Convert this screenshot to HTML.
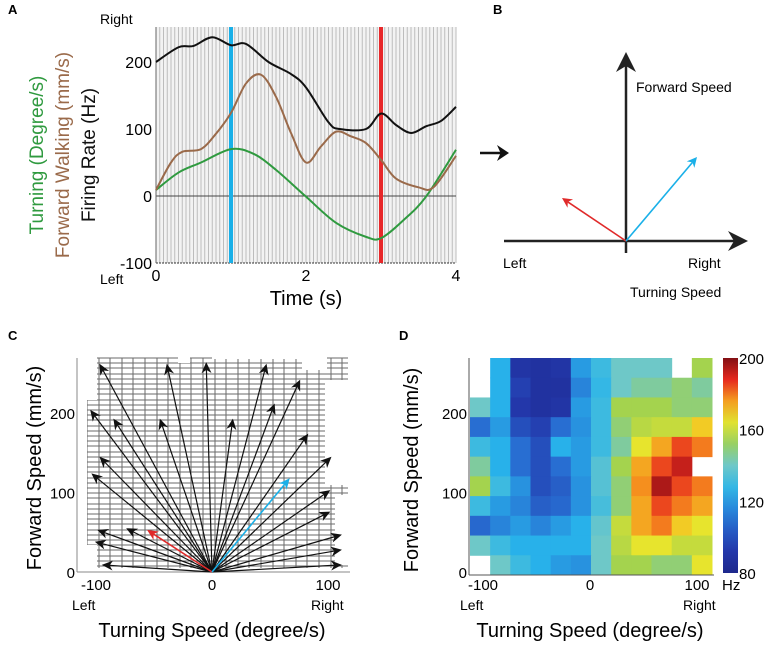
<!DOCTYPE html>
<html><head><meta charset="utf-8"><style>
html,body{margin:0;padding:0;background:#fff;}
svg{display:block;font-family:"Liberation Sans",Arial,sans-serif;}
</style></head><body>
<svg id="fig" width="767" height="645" viewBox="0 0 767 645">
<g id="pA"></g>
<g id="pB"></g>
<g id="pC"></g>
<g id="pD"></g>
</svg>
<script>
// ---- Panel A data ----
const timeT = [0,0.3,0.5,0.75,1,1.2,1.5,1.8,2,2.3,2.45,2.8,3,3.2,3.4,3.6,3.8,4];
const firingRate = [200,222,224,237,225,227,200,182,162,110,100,100,123,106,94,104,112,133];
const walkT = [0,0.2,0.35,0.6,0.8,1,1.2,1.4,1.6,1.8,2,2.2,2.4,2.6,2.8,3,3.2,3.5,3.7,4];
const walkSpeed = [9,50,66,70,93,124,168,181,148,94,50,74,96,89,79,54,26,13,13,60];
const turnT = [0,0.3,0.6,1,1.3,1.6,2,2.4,2.8,3,3.3,3.6,4];
const turnSpeed = [9,35,50,70,63,39,-1,-40,-61,-63,-36,-1,69];
const aYTicks = [200,100,0,-100];
const aXTicks = [0,2,4];
const markTimes = [1,3];
// ---- Panel C data ----
const arrowTurn = [-97,-39,-5,47,76,-105,-85,-45,18,54,83,-97,-104,103,102,102,-99,-74,112,-101,112,-95,112];
const arrowFwd = [262,262,264,262,242,204,193,193,193,212,174,145,124,145,103,76,53,55,47,38,28,9,9];
const redArrow = [-56,53];
const blueArrow = [67,118];
const cXTicks = [-100,0,100];
const cYTicks = [0,100,200];
// ---- Panel D data (rows top->bottom, cols left->right; null = empty) ----
const heatRows = [
[null,125,90,88,90,120,130,140,140,140,null,155],
[null,125,95,88,88,115,128,140,145,145,150,145],
[140,125,92,88,90,120,130,155,155,155,150,150],
[110,120,100,95,110,118,130,150,158,160,160,170],
[130,125,110,100,125,120,130,145,165,175,185,180],
[145,125,110,100,110,120,135,155,175,185,192,null],
[155,130,118,100,105,118,135,150,178,195,185,180],
[130,120,115,105,108,118,132,150,175,185,180,175],
[108,115,120,115,120,125,138,160,175,180,170,165],
[140,130,125,125,125,125,140,158,165,165,160,160],
[null,140,130,125,120,118,140,155,155,150,150,165]];
const cbarTicks = [200,160,120,80];

const NS="http://www.w3.org/2000/svg";
function mk(parent,tag,attrs,text){const e=document.createElementNS(NS,tag);for(const k in attrs)e.setAttribute(k,attrs[k]);if(text!==undefined)e.textContent=text;parent.appendChild(e);return e;}
function smooth(pts){let d="M"+pts[0][0]+","+pts[0][1];for(let i=0;i<pts.length-1;i++){const p0=pts[Math.max(0,i-1)],p1=pts[i],p2=pts[i+1],p3=pts[Math.min(pts.length-1,i+2)];const c1=[p1[0]+(p2[0]-p0[0])/6,p1[1]+(p2[1]-p0[1])/6],c2=[p2[0]-(p3[0]-p1[0])/6,p2[1]-(p3[1]-p1[1])/6];d+=" C"+c1+" "+c2+" "+p2;}return d;}

// ===== Panel A =====
const A=document.getElementById('pA');
const ax=t=>156+t*75, ay=v=>196-v*0.67;
let e;
e=mk(A,'text',{x:8,y:14,'font-size':13,'font-weight':'bold'},'A');


e=mk(A,'rect',{x:156,y:27,width:300,height:236,fill:'#f3f3f3'});


for(let i=0;i<=80;i++){e=mk(A,'line',{x1:156+i*3.75,x2:156+i*3.75,y1:27,y2:263,stroke:'#bdbdbd','stroke-width':1});

}
e=mk(A,'line',{x1:156,x2:456,y1:ay(0),y2:ay(0),stroke:'#444','stroke-width':1});


e=mk(A,'line',{x1:156,x2:456,y1:263,y2:263,stroke:'#333','stroke-width':1,'stroke-dasharray':'2,1'});


e=mk(A,'line',{x1:156,x2:156,y1:27,y2:263,stroke:'#666','stroke-width':1});


const markCol=['#1ab0e8','#e8282a'];
markTimes.forEach((t,i)=>{e=mk(A,'line',{x1:ax(t),x2:ax(t),y1:27,y2:263,stroke:markCol[i],'stroke-width':4});

});
function curve(ts,vs,col,name){e=mk(A,'path',{d:smooth(ts.map((t,i)=>[ax(t),ay(vs[i])])),fill:'none',stroke:col,'stroke-width':2});

}
curve(turnT,turnSpeed,'#2f9a3f','turning-line');
curve(walkT,walkSpeed,'#9a6a4a','forward-walking-line');
curve(timeT,firingRate,'#111','firing-rate-line');
aYTicks.forEach(v=>{e=mk(A,'text',{x:152,y:ay(v)+6,'font-size':16,'text-anchor':'end'},String(v));

});
aXTicks.forEach(v=>{e=mk(A,'text',{x:ax(v),y:281,'font-size':16,'text-anchor':'middle'},String(v));

});
e=mk(A,'text',{x:100,y:24,'font-size':14},'Right');


e=mk(A,'text',{x:100,y:284,'font-size':14},'Left');


e=mk(A,'text',{x:306,y:305,'font-size':20,'text-anchor':'middle'},'Time (s)');


[['Firing Rate (Hz)','#111',95,'firing-rate-title'],['Forward Walking (mm/s)','#9a6a4a',69,'forward-walking-title'],['Turning (Degree/s)','#2f9a3f',43,'turning-title']].forEach(a=>{
e=mk(A,'text',{x:a[2],y:155,'font-size':19,'text-anchor':'middle',fill:a[1],transform:'rotate(-90 '+a[2]+' 155)'},a[0]);

});

// ===== Panel B =====
const B=document.getElementById('pB');
e=mk(B,'text',{x:493,y:14,'font-size':13,'font-weight':'bold'},'B');


function arrow(g,x1,y1,x2,y2,col,w,hl,hw,name){const a=Math.atan2(y2-y1,x2-x1),c=Math.cos(a),s=Math.sin(a);
const bx=x2-hl*c,by=y2-hl*s;
e=mk(g,'line',{x1:x1,y1:y1,x2:bx+hl*0.3*c,y2:by+hl*0.3*s,stroke:col,'stroke-width':w});


e=mk(g,'polygon',{points:[x2,y2,bx-hw*s,by+hw*c,bx+hl*0.3*c,by+hl*0.3*s,bx+hw*s,by-hw*c].join(','),fill:col});

}
arrow(B,626,253,626,52,'#222',2.5,20,10,'forward-speed-axis');
arrow(B,504,241,748,241,'#222',2.5,20,10,'turning-speed-axis');
arrow(B,626,241,562,198,'#e02a2a',1.6,10,5,'red-vector');
arrow(B,626,241,697,157,'#1ab0e8',1.6,10,5,'blue-vector');
arrow(B,480,153,509,153,'#111',2.5,12,8,'transition-arrow');
[['Forward  Speed',636,92,'forward-speed-label'],['Left',503,268,'b-left-label'],['Right',688,268,'b-right-label'],['Turning Speed',630,297,'turning-speed-label']].forEach(a=>{
e=mk(B,'text',{x:a[1],y:a[2],'font-size':14},a[0]);

});

// ===== Panel C =====
const C=document.getElementById('pC');
const cx=v=>212+v*1.16, cy=v=>572-v*0.795;
e=mk(C,'text',{x:8,y:340,'font-size':13,'font-weight':'bold'},'C');


const gg=mk(C,'g',{stroke:'#6a6a6a','stroke-width':1,'shape-rendering':'crispEdges'});


for(let y=358;y<=568;y+=5.2){mk(gg,'line',{x1:87,x2:348,y1:Math.round(y),y2:Math.round(y)});}
for(let x=87;x<=349;x+=11.6){mk(gg,'line',{x1:Math.round(x),x2:Math.round(x),y1:358,y2:568});}
[[77,355,20,45],[77,355,10,220],[178,355,12,8],[212,355,90,4],[302,355,25,15],[327,380,25,8],[77,448,10,30],[77,545,20,25],[325,380,25,105],[335,495,15,70]].forEach(r=>{
e=mk(C,'rect',{x:r[0],y:r[1],width:r[2],height:r[3],fill:'#fff'});

});
e=mk(C,'line',{x1:77,x2:77,y1:358,y2:572,stroke:'#888','stroke-width':1});


e=mk(C,'line',{x1:77,x2:350,y1:572,y2:572,stroke:'#888','stroke-width':1});


arrowTurn.forEach((t,i)=>arrow(C,cx(0),cy(0),cx(t),cy(arrowFwd[i]),'#111',1.2,11,5,'direction-arrow'));
arrow(C,cx(0),cy(0),cx(redArrow[0]),cy(redArrow[1]),'#e02a2a',1.6,11,5,'red-direction-arrow');
arrow(C,cx(0),cy(0),cx(blueArrow[0]),cy(blueArrow[1]),'#1ab0e8',1.6,11,5,'blue-direction-arrow');
cXTicks.forEach(v=>{e=mk(C,'text',{x:cx(v),y:590,'font-size':15,'text-anchor':'middle'},String(v));

});
cYTicks.forEach(v=>{e=mk(C,'text',{x:75,y:cy(v)+6,'font-size':15,'text-anchor':'end'},String(v));

});
e=mk(C,'text',{x:72,y:610,'font-size':14},'Left');


e=mk(C,'text',{x:311,y:610,'font-size':14},'Right');


e=mk(C,'text',{x:212,y:637,'font-size':20,'text-anchor':'middle'},'Turning Speed (degree/s)');


e=mk(C,'text',{x:41,y:468,'font-size':20,'text-anchor':'middle',transform:'rotate(-90 41 468)'},'Forward  Speed (mm/s)');



// ===== Panel D =====
const D=document.getElementById('pD');
const dx=v=>590+v*1.07, dy=v=>572-v*0.795;
function jet(v){let t=Math.max(0,Math.min(1,(v-80)/120));
const stops=[[0,[30,40,140]],[0.1,[35,55,170]],[0.25,[40,110,210]],[0.38,[40,180,235]],[0.5,[110,200,200]],[0.62,[160,210,80]],[0.72,[240,230,40]],[0.82,[245,140,30]],[0.9,[230,40,30]],[1,[130,15,20]]];
for(let i=0;i<stops.length-1;i++){if(t<=stops[i+1][0]){const f=(t-stops[i][0])/(stops[i+1][0]-stops[i][0]);const a=stops[i][1],b=stops[i+1][1];return 'rgb('+a.map((c,k)=>Math.round(c+(b[k]-c)*f)).join(',')+')';}}return 'rgb(130,15,20)';}
e=mk(D,'text',{x:399,y:340,'font-size':13,'font-weight':'bold'},'D');


const nR=heatRows.length,nC=heatRows[0].length,x0=470,x1=712,y0=358,y1=575;
const cw=(x1-x0)/nC,ch=(y1-y0)/nR;
heatRows.forEach((row,r)=>row.forEach((v,c)=>{if(v===null)return;
e=mk(D,'rect',{x:x0+c*cw,y:y0+r*ch,width:cw+0.5,height:ch+0.5,fill:jet(v)});

}));
e=mk(D,'line',{x1:469,x2:469,y1:358,y2:575,stroke:'#555','stroke-width':1});


e=mk(D,'line',{x1:469,x2:714,y1:575,y2:575,stroke:'#555','stroke-width':1});


const grad=mk(D,'defs',{});const lg=mk(grad,'linearGradient',{id:'cb',x1:0,y1:1,x2:0,y2:0});
for(let i=0;i<=10;i++)mk(lg,'stop',{offset:i/10,'stop-color':jet(80+i*12)});
e=mk(D,'rect',{x:723,y:358,width:15,height:215,fill:'url(#cb)'});


cbarTicks.forEach(v=>{e=mk(D,'text',{x:739,y:573-(v-80)/120*215+6,'font-size':15},String(v));

});
e=mk(D,'text',{x:722,y:590,'font-size':15},'Hz');


cXTicks.forEach(v=>{e=mk(D,'text',{x:dx(v),y:590,'font-size':15,'text-anchor':'middle'},String(v));

});
cYTicks.forEach(v=>{e=mk(D,'text',{x:467,y:dy(v)+6,'font-size':15,'text-anchor':'end'},String(v));

});
e=mk(D,'text',{x:460,y:610,'font-size':14},'Left');


e=mk(D,'text',{x:683,y:610,'font-size':14},'Right');


e=mk(D,'text',{x:590,y:637,'font-size':20,'text-anchor':'middle'},'Turning Speed (degree/s)');


e=mk(D,'text',{x:418,y:470,'font-size':20,'text-anchor':'middle',transform:'rotate(-90 418 470)'},'Forward  Speed (mm/s)');


</script>
</body></html>
